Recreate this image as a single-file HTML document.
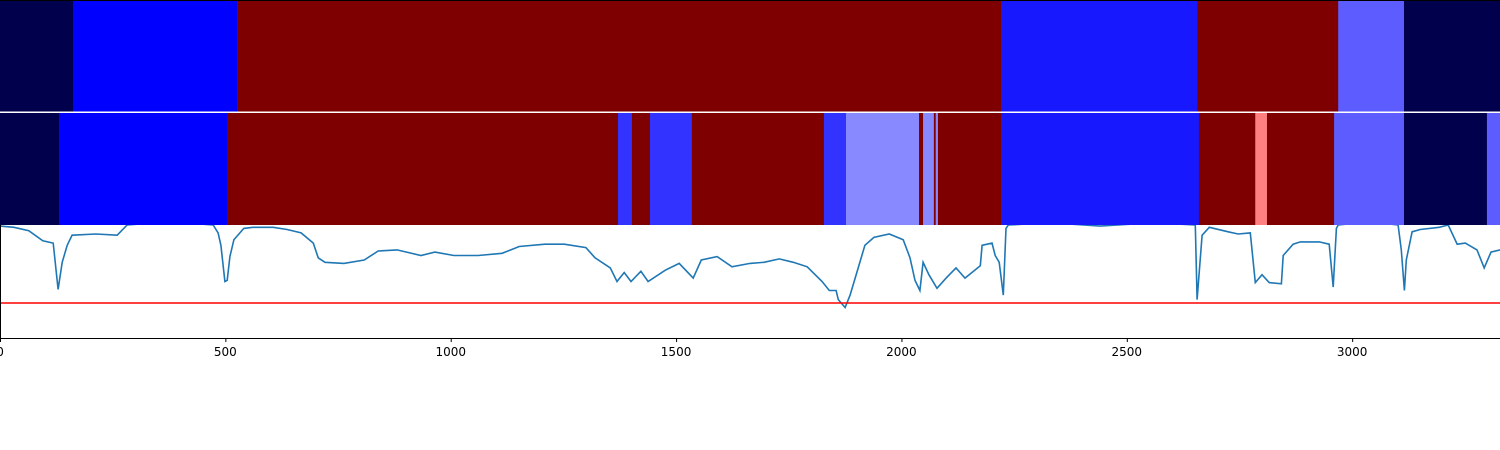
<!DOCTYPE html>
<html><head><meta charset="utf-8"><style>
html,body{margin:0;padding:0;background:#fff;width:1500px;height:450px;overflow:hidden}
svg{display:block;font-family:"DejaVu Sans","Liberation Sans",sans-serif}
</style></head><body>
<svg id="chart" width="1500" height="450" xmlns="http://www.w3.org/2000/svg">
<g id="bands"></g><g id="plot"></g><g id="axis"></g>
</svg>
<script>
const xMax = 3328;
const topEdges = [0,162,526,2221,2656,2969,3115,3328];
const topColors = ['#00004c','#0000ff','#7f0000','#1818ff','#7f0000','#5c5cff','#00004c'];
const midEdges = [0,131,504,1371,1402,1442,1535,1828,1877,2039,2048,2072,2076,2081,2221,2660,2785,2811,2960,3115,3299,3328];
const midColors = ['#00004c','#0000ff','#7f0000','#3333ff','#7f0000','#3333ff','#7f0000','#3333ff','#8888ff','#7f0000','#8888ff','#7f0000','#8888ff','#7f0000','#1818ff','#7f0000','#ff8080','#7f0000','#5c5cff','#00004c','#5c5cff'];
const lineX = [0,31,64,95,118,129,138,149,160,213,260,282,377,473,484,490,499,504,510,519,541,561,606,637,668,695,706,721,763,808,839,881,934,965,1007,1061,1114,1152,1209,1252,1300,1320,1354,1369,1385,1400,1422,1438,1476,1507,1538,1556,1591,1624,1664,1695,1729,1760,1791,1824,1840,1855,1860,1875,1886,1904,1919,1939,1973,2004,2019,2030,2041,2048,2061,2079,2099,2121,2141,2175,2179,2201,2208,2217,2226,2232,2237,2330,2441,2560,2652,2656,2667,2683,2725,2747,2774,2785,2800,2816,2843,2847,2869,2885,2927,2949,2958,2965,2969,3040,3102,3109,3116,3120,3133,3151,3193,3213,3233,3251,3277,3293,3308,3328];
const lineY = [.99,.98,.95,.86,.84,.43,.67,.82,.91,.92,.91,1.0,1.03,1.0,.93,.82,.50,.51,.72,.87,.97,.98,.98,.96,.93,.84,.71,.67,.66,.69,.77,.78,.73,.76,.73,.73,.75,.81,.83,.83,.80,.71,.62,.50,.58,.50,.59,.50,.60,.66,.53,.69,.72,.63,.66,.67,.70,.67,.63,.50,.42,.42,.34,.27,.38,.62,.82,.89,.92,.87,.71,.51,.42,.67,.56,.44,.53,.62,.53,.64,.82,.84,.73,.67,.38,.97,1.0,1.02,.99,1.02,1.0,.34,.91,.98,.94,.92,.93,.49,.56,.49,.48,.73,.83,.85,.85,.83,.45,.97,1.0,1.03,1.0,.78,.42,.69,.94,.96,.98,1.0,.83,.84,.78,.62,.76,.78];
const redLevel = 0.31;
const xTicks = [0,500,1000,1500,2000,2500,3000];

const NS='http://www.w3.org/2000/svg';
const X = v => v/xMax*1500;
const PT=225, PB=338;
const Y = v => PB - v*(PB-PT);
function mk(tag, attrs, parent){const e=document.createElementNS(NS,tag);for(const k in attrs)e.setAttribute(k,attrs[k]);parent.appendChild(e);return e;}
const bands=document.getElementById('bands'), plot=document.getElementById('plot'), axis=document.getElementById('axis');
function drawBand(edges, colors, y0, h, name){
  for(let i=0;i<colors.length;i++){
    const r=mk('rect',{x:X(edges[i]),y:y0,width:X(edges[i+1])-X(edges[i])+0.3,height:h,fill:colors[i]},bands);
    
    
  }
}
drawBand(topEdges, topColors, 0, 112, 'top-band');
drawBand(midEdges, midColors, 113, 112, 'middle-band');
let sep=mk('rect',{x:0,y:111.5,width:1500,height:1.5,fill:'#ffffff'},bands);


let tb=mk('line',{x1:0,x2:1500,y1:0.5,y2:0.5,stroke:'#000','stroke-width':1},bands);



const cp=mk('clipPath',{id:'cp'},plot);
mk('rect',{x:0,y:PT,width:1500,height:PB-PT},cp);
let d=lineX.map((x,i)=>(i?'L':'M')+X(x).toFixed(1)+','+Y(lineY[i]).toFixed(1)).join(' ');
const ln=mk('path',{d:d,fill:'none',stroke:'#1f77b4','stroke-width':1.6,'clip-path':'url(#cp)'},plot);


const rl=mk('line',{x1:0,x2:1500,y1:Y(redLevel),y2:Y(redLevel),stroke:'#ff0000','stroke-width':1.5},plot);



const sp=mk('path',{d:'M0.5,'+PT+' L0.5,'+(PB+0.5)+' L1500,'+(PB+0.5),fill:'none',stroke:'#000','stroke-width':1},axis);


xTicks.forEach(t=>{
  const tk=mk('line',{x1:X(t)+0.5,x2:X(t)+0.5,y1:PB,y2:PB+4,stroke:'#000','stroke-width':1},axis);
  
  
  const tx=mk('text',{x:X(t),y:PB+18,'text-anchor':'middle','font-size':12,fill:'#000'},axis);
  tx.textContent=t;
  
  
});
</script>
</body></html>
